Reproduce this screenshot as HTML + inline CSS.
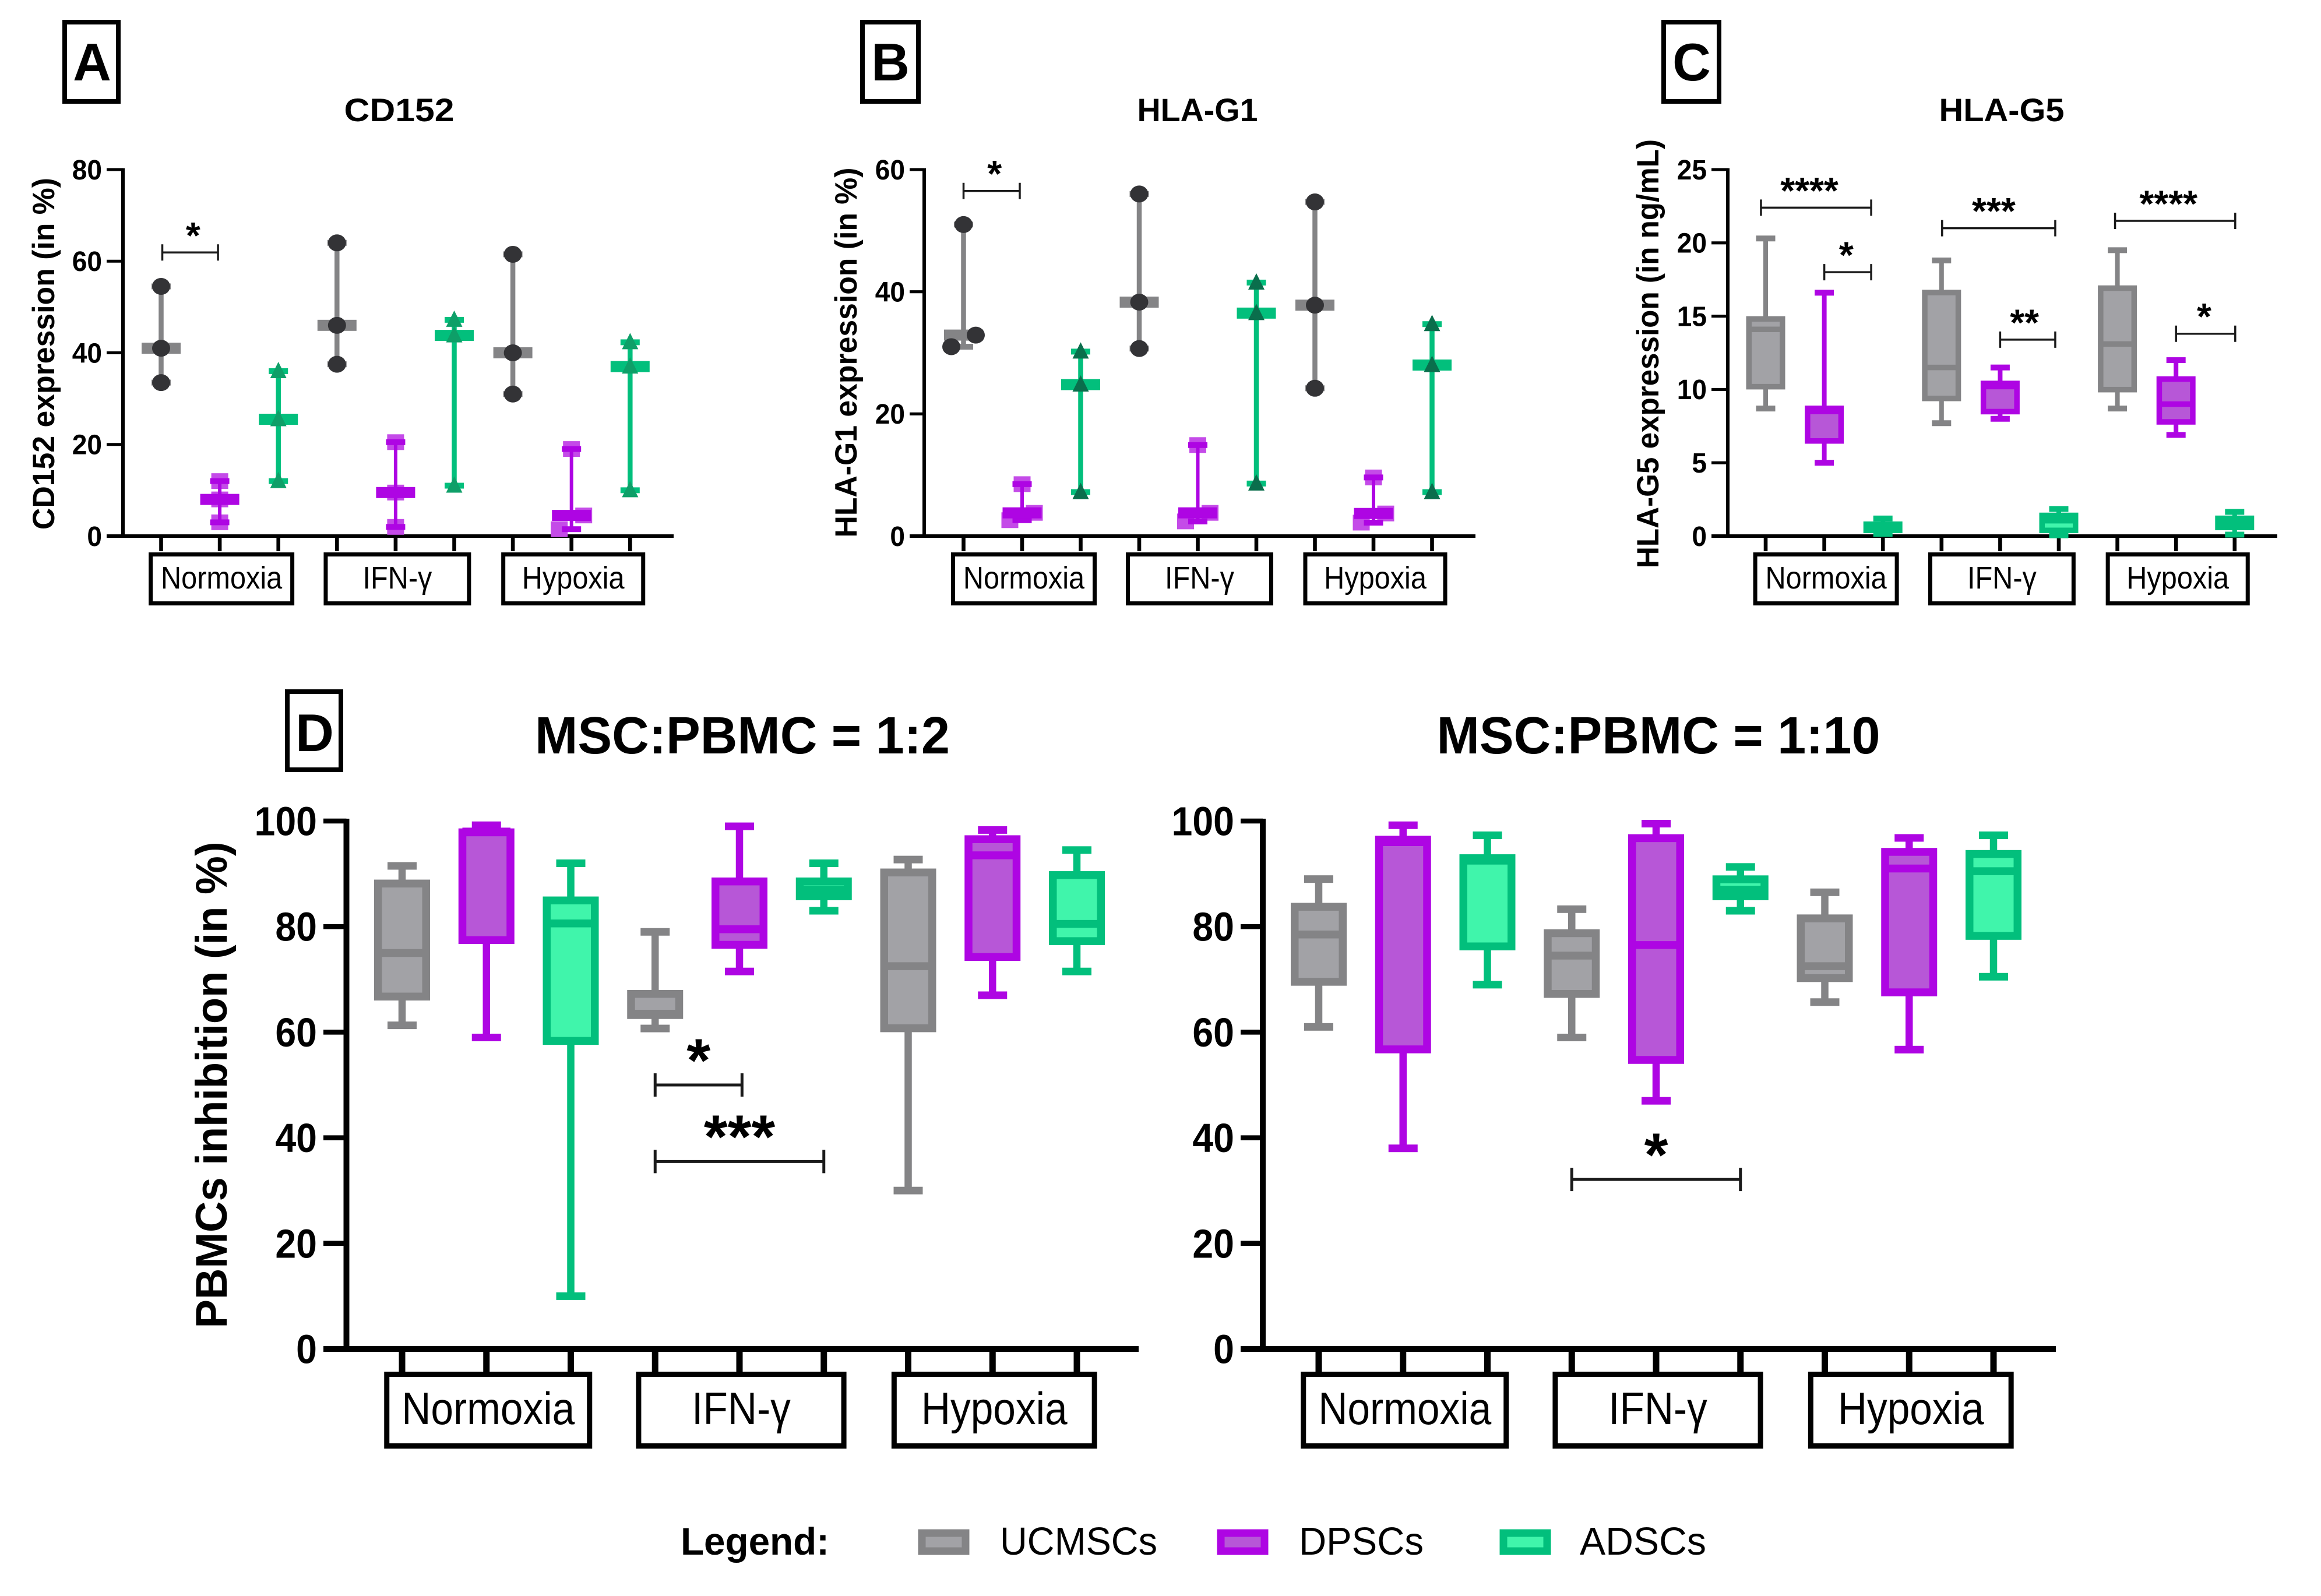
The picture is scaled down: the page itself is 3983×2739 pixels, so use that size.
<!DOCTYPE html>
<html lang="en">
<head>
<meta charset="utf-8">
<title>Immunomodulatory expression and PBMC inhibition by MSC type</title>
<style>
html,body{margin:0;padding:0;background:#fff;}
svg{display:block;}
text{font-family:"Liberation Sans",sans-serif;fill:#000;}
.b{font-weight:bold;}
</style>
</head>
<body>
<svg id="figure" xmlns="http://www.w3.org/2000/svg" width="3983" height="2739" viewBox="0 0 3983 2739">
  <rect x="0" y="0" width="3983" height="2739" fill="#fff"/>

  <g fill="none" stroke="#000" stroke-width="8">
    <rect x="111" y="38" width="92" height="136"/>
    <rect x="1480" y="38" width="96" height="136"/>
    <rect x="2855" y="38" width="95" height="136"/>
    <rect x="493" y="1187" width="92" height="134"/>
  </g>
  <text class="b" x="158" y="138" font-size="91" text-anchor="middle">A</text>
  <text class="b" x="1528" y="138" font-size="91" text-anchor="middle">B</text>
  <text class="b" x="2903" y="138" font-size="91" text-anchor="middle">C</text>
  <text class="b" x="540" y="1289" font-size="91" text-anchor="middle">D</text>

  <text class="b" x="685" y="208" font-size="56" text-anchor="middle" textLength="189" lengthAdjust="spacingAndGlyphs">CD152</text>
  <text class="b" x="2055" y="208" font-size="56" text-anchor="middle" textLength="207" lengthAdjust="spacingAndGlyphs">HLA-G1</text>
  <text class="b" x="3435" y="208" font-size="56" text-anchor="middle" textLength="215" lengthAdjust="spacingAndGlyphs">HLA-G5</text>
  <text class="b" x="1274" y="1293" font-size="90" text-anchor="middle" textLength="712" lengthAdjust="spacingAndGlyphs">MSC:PBMC = 1:2</text>
  <text class="b" x="2846" y="1293" font-size="90" text-anchor="middle" textLength="761" lengthAdjust="spacingAndGlyphs">MSC:PBMC = 1:10</text>

  <text class="b" transform="translate(93 607) rotate(-90)" font-size="53" text-anchor="middle" textLength="604" lengthAdjust="spacingAndGlyphs">CD152 expression (in %)</text>
  <text class="b" transform="translate(1470 605) rotate(-90)" font-size="53" text-anchor="middle" textLength="635" lengthAdjust="spacingAndGlyphs">HLA-G1 expression (in %)</text>
  <text class="b" transform="translate(2846 607) rotate(-90)" font-size="53" text-anchor="middle" textLength="736" lengthAdjust="spacingAndGlyphs">HLA-G5 expression (in ng/mL)</text>
  <text class="b" transform="translate(389 1862) rotate(-90)" font-size="76" text-anchor="middle" textLength="835" lengthAdjust="spacingAndGlyphs">PBMCs inhibition (in %)</text>

  <g id="charts"></g>

  <g>
    <text class="b" x="1168" y="2668" font-size="66" textLength="255" lengthAdjust="spacingAndGlyphs">Legend:</text>
    <rect x="1582" y="2631" width="75" height="31" fill="#A2A2A6" stroke="#848486" stroke-width="13"/>
    <text x="1716" y="2668" font-size="67" textLength="270" lengthAdjust="spacingAndGlyphs">UCMSCs</text>
    <rect x="2095" y="2631" width="75" height="31" fill="#B757D7" stroke="#AE05E3" stroke-width="13"/>
    <text x="2229" y="2668" font-size="67" textLength="214" lengthAdjust="spacingAndGlyphs">DPSCs</text>
    <rect x="2580" y="2631" width="75" height="31" fill="#40F5AB" stroke="#02BF7C" stroke-width="13"/>
    <text x="2711" y="2668" font-size="67" textLength="217" lengthAdjust="spacingAndGlyphs">ADSCs</text>
  </g>
</svg>

<script>
// ---------- Data ----------
const conditions = ['Normoxia', 'IFN-γ', 'Hypoxia'];
const cellTypes = ['ucmscs', 'dpscs', 'adscs'];

const cd152Ticks = [0, 20, 40, 60, 80];
const hlaG1Ticks = [0, 20, 40, 60];
const hlaG5Ticks = [0, 5, 10, 15, 20, 25];
const inhibitionTicks = [0, 20, 40, 60, 80, 100];

// three replicates per bar, order: Normoxia (UC, DP, AD), IFN-y (UC, DP, AD), Hypoxia (UC, DP, AD)
const cd152Values = [
  [33.5, 41, 54.5], [3, 8, 12], [12, 25.5, 36],
  [37.5, 46, 64], [2, 9.5, 20.5], [11, 43.8, 47.2],
  [31, 40, 61.5], [1.5, 4.5, 19], [10, 37, 42.3]
];
const hlaG1Values = [
  [31, 32.9, 51], [2.6, 3.8, 8.5], [7.2, 24.8, 30.2],
  [30.7, 38.3, 56], [2.4, 3.8, 14.9], [8.6, 36.5, 41.5],
  [24.2, 37.8, 54.7], [2.2, 3.7, 9.6], [7.2, 28, 34.7]
];

// box plots: min, q1, median, q3, max
const hlaG5Boxes = [
  [8.7, 10, 14.1, 15, 20.3], [5, 6.3, 8.5, 8.9, 16.6], [0.15, 0.2, 0.6, 1, 1.2],
  [7.7, 9.2, 11.5, 16.8, 18.8], [8, 8.3, 10.2, 10.6, 11.5], [0.05, 0.2, 1.05, 1.6, 1.85],
  [8.7, 9.8, 13.1, 17.1, 19.5], [6.9, 7.6, 9, 10.9, 12], [0.1, 0.4, 0.9, 1.4, 1.65]
];
const inhibition12Boxes = [
  [61.3, 66, 75, 88.9, 91.5], [59, 76.7, 98, 98.6, 99.2], [10, 57.6, 80.6, 85.7, 92],
  [60.7, 62.5, 63.5, 68, 79], [71.5, 75.8, 79.5, 89.3, 99], [83, 85, 87, 89.3, 92],
  [30, 60, 72.5, 91, 92.7], [67, 73.5, 93.5, 97.3, 98.3], [71.5, 76.5, 80.5, 90.5, 94.5]
];
const inhibition110Boxes = [
  [61, 68.8, 78.5, 84.5, 89], [38, 56, 96, 97.2, 99.2], [69, 75.5, 92.5, 93.7, 97.3],
  [59, 66.5, 74.5, 79.5, 83.3], [47, 54, 76.5, 97.5, 99.5], [83, 85, 87, 89.7, 91.3],
  [65.7, 69.5, 72.5, 82.3, 86.5], [56.7, 66.8, 91, 94.9, 96.8], [70.5, 77.5, 90.5, 94.5, 97.3]
];

// significance: from bar index, to bar index, axis value, stars
const cd152Brackets = [[0.02, 0.97, 61.9, '*']];
const hlaG1Brackets = [[0, 0.96, 56.5, '*']];
const hlaG5Brackets = [
  [-0.08, 1.8, 22.4, '****'], [1, 1.8, 18, '*'],
  [3.01, 4.94, 21, '***'], [4, 4.94, 13.4, '**'],
  [5.96, 8.01, 21.5, '****'], [7, 8.01, 13.8, '*']
];
const inhibition12Brackets = [[3, 4.03, 50, '*'], [3, 5, 35.5, '***']];
const inhibition110Brackets = [[3, 5, 32.1, '*']];

// ---------- Styling ----------
const lineColors = ['#848486', '#AE05E3', '#02BF7C'];
const fillColors = ['#A2A2A6', '#B757D7', '#40F5AB'];

const smallFrame = {
  yTop: 291, y0: 920, tickDown: 946, axisW: 6, tickFont: 48, tickScale: 0.96, tickGap: 8,
  labelFont: 53.5, labelScale: 0.91, labelBase: 1010, catTop: 951.5, catBottom: 1035.5, catW: 243, catStroke: 7,
  boxOuter: 67, boxStroke: 9.5, whisker: 8, capW: 33, capH: 10,
  bracketW: 3.5, bracketTick: 28, starFont: 64, starGap: 37, starShift: 5, starSpread: 0
};
const largeFrame = {
  yTop: 1409, y0: 2315, tickDown: 2355, axisW: 10, tickFont: 70, tickScale: 0.92, tickGap: 11,
  labelFont: 78, labelScale: 0.89, labelBase: 2444, catTop: 2358.5, catBottom: 2481.5, catW: 348, catStroke: 9,
  boxOuter: 96, boxStroke: 13.5, whisker: 12.5, capW: 50, capH: 13,
  bracketW: 5, bracketTick: 40, starFont: 105, starGap: 55, starShift: 0, starSpread: 0
};

const panels = [
  Object.assign({}, smallFrame, { name: 'cd152', kind: 'points', max: 80, ticks: cd152Ticks, values: cd152Values, brackets: cd152Brackets,
    axisX: 211, tickLeft: 183, xEnd: 1156, firstBar: 276.5, step: 100.6, triangle: '#0E9F68' }),
  Object.assign({}, smallFrame, { name: 'hla-g1', kind: 'points', max: 60, ticks: hlaG1Ticks, values: hlaG1Values, brackets: hlaG1Brackets,
    axisX: 1586, tickLeft: 1561, xEnd: 2532, firstBar: 1653.5, step: 100.5, triangle: '#0A6E4C' }),
  Object.assign({}, smallFrame, { name: 'hla-g5', kind: 'box', max: 25, ticks: hlaG5Ticks, values: hlaG5Boxes, brackets: hlaG5Brackets,
    axisX: 2965, tickLeft: 2937, xEnd: 3908, firstBar: 3030, step: 100.6, starShift: -2.5, starSpread: 3 }),
  Object.assign({}, largeFrame, { name: 'inhibition-1-2', kind: 'box', max: 100, ticks: inhibitionTicks, values: inhibition12Boxes, brackets: inhibition12Brackets,
    axisX: 594.5, tickLeft: 555, xEnd: 1954, firstBar: 690, step: 144.75 }),
  Object.assign({}, largeFrame, { name: 'inhibition-1-10', kind: 'box', max: 100, ticks: inhibitionTicks, values: inhibition110Boxes, brackets: inhibition110Brackets,
    axisX: 2167, tickLeft: 2129, xEnd: 3528, firstBar: 2263, step: 144.75 })
];

// ---------- Drawing ----------
const NS = 'http://www.w3.org/2000/svg';
function add(parent, tag, attrs, text) {
  const el = document.createElementNS(NS, tag);
  for (const k in attrs) el.setAttribute(k, attrs[k]);
  if (text !== undefined) el.textContent = text;
  parent.appendChild(el);
  return el;
}

function drawAxes(g, p, yScale, xScale) {
  const yAxis = add(g, 'line', { x1: p.axisX, x2: p.axisX, y1: yScale(p.max) - p.axisW * 0.4, y2: p.y0 + p.axisW / 2, stroke: '#000', 'stroke-width': p.axisW });
  
  
  const xAxis = add(g, 'line', { x1: p.tickLeft, x2: p.xEnd, y1: p.y0, y2: p.y0, stroke: '#000', 'stroke-width': p.axisW });
  
  

  p.ticks.forEach(function (t) {
    const y = yScale(t);
    const tick = add(g, 'line', { x1: p.tickLeft, x2: p.axisX, y1: y, y2: y, stroke: '#000', 'stroke-width': p.axisW * 0.85 });
    
    
    const label = add(g, 'text', { transform: 'translate(' + (p.tickLeft - p.tickGap) + ' ' + (y + p.tickFont * 0.35) + ') scale(' + p.tickScale + ' 1)', 'font-size': p.tickFont, 'font-weight': 'bold', 'text-anchor': 'end' }, String(t));
    
    
  });

  p.values.forEach(function (_, i) {
    const tick = add(g, 'line', { x1: xScale(i), x2: xScale(i), y1: p.y0, y2: p.tickDown, stroke: '#000', 'stroke-width': p.axisW * 1.1 });
    
    
  });

  conditions.forEach(function (c, j) {
    const cx = xScale(j * 3 + 1) + 3;
    const w = p.catW * (j === 1 ? 1.012 : (j === 2 ? 0.988 : 1));
    const box = add(g, 'rect', { x: cx - w / 2, y: p.catTop, width: w, height: p.catBottom - p.catTop, fill: '#fff', stroke: '#000', 'stroke-width': p.catStroke });
    
    
    const label = add(g, 'text', { transform: 'translate(' + cx + ' ' + p.labelBase + ') scale(' + p.labelScale + ' 1)', 'font-size': p.labelFont, 'text-anchor': 'middle' }, c);
    
    
  });
}

function drawSymbol(g, type, x, y, color) {
  if (type === 0) {
    const c = add(g, 'ellipse', { cx: x, cy: y, rx: 15.5, ry: 14.5, fill: '#333336' });
    
    
  } else if (type === 1) {
    const s = add(g, 'rect', { x: x - 14.5, y: y - 13.5, width: 29, height: 27, fill: '#C44BE8' });
    
    
  } else {
    const t = add(g, 'polygon', { points: (x - 14) + ',' + (y + 12) + ' ' + (x + 14) + ',' + (y + 12) + ' ' + x + ',' + (y - 16), fill: color });
    
    
  }
}

function drawPoints(g, p, d, i, yScale, xScale) {
  const type = i % 3;
  const x = xScale(i);
  const col = lineColors[type];
  const lo = Math.min.apply(null, d);
  const hi = Math.max.apply(null, d);
  const sorted = d.slice().sort(function (a, b) { return a - b; });
  const median = sorted[1];
  const offsets = [0, 0, 0];
  for (let k = 0; k < 2; k++) {
    if (Math.abs(yScale(sorted[k]) - yScale(sorted[k + 1])) < 25) {
      offsets[k] = -21;
      offsets[k + 1] = 21;
    }
  }
  if (type === 1) {
    sorted.forEach(function (v, k) { drawSymbol(g, type, x + offsets[k], yScale(v), p.triangle); });
  }
  const range = add(g, 'line', { x1: x, x2: x, y1: yScale(lo), y2: yScale(hi), stroke: col, 'stroke-width': type === 1 ? 6 : 8.5 });
  
  
  [lo, hi].forEach(function (v) {
    const cap = add(g, 'rect', { x: x - p.capW / 2, y: yScale(v) - p.capH / 2, width: p.capW, height: p.capH, fill: col });
    
    
  });
  const bar = add(g, 'rect', { x: x - 33.5, y: yScale(median) - 9.5, width: 67, height: 19, fill: col });
  
  
  if (type !== 1) {
    sorted.forEach(function (v, k) { drawSymbol(g, type, x + offsets[k], yScale(v), p.triangle); });
  }
}

function drawBox(g, p, d, i, yScale, xScale) {
  const type = i % 3;
  const x = xScale(i);
  const col = lineColors[type];
  const whisker = add(g, 'line', { x1: x, x2: x, y1: yScale(d[0]), y2: yScale(d[4]), stroke: col, 'stroke-width': p.whisker });
  
  
  [d[0], d[4]].forEach(function (v) {
    const cap = add(g, 'rect', { x: x - p.capW / 2, y: yScale(v) - p.capH / 2, width: p.capW, height: p.capH, fill: col });
    
    
  });
  const inner = p.boxOuter - p.boxStroke;
  const box = add(g, 'rect', { x: x - inner / 2, y: yScale(d[3]) + p.boxStroke / 2, width: inner, height: Math.max(yScale(d[1]) - yScale(d[3]) - p.boxStroke, 1), fill: fillColors[type], stroke: col, 'stroke-width': p.boxStroke });
  
  
  const med = add(g, 'line', { x1: x - inner / 2, x2: x + inner / 2, y1: yScale(d[2]), y2: yScale(d[2]), stroke: col, 'stroke-width': p.boxStroke });
  
  
}

function drawBracket(g, p, b, yScale, xScale) {
  const x1 = xScale(b[0]);
  const x2 = xScale(b[1]);
  const y = yScale(b[2]);
  const line = add(g, 'path', { d: 'M' + x1 + ' ' + (y - p.bracketTick / 2) + 'V' + (y + p.bracketTick / 2) + 'M' + x1 + ' ' + y + 'H' + x2 + 'M' + x2 + ' ' + (y - p.bracketTick / 2) + 'V' + (y + p.bracketTick / 2), fill: 'none', stroke: '#1a1a1a', 'stroke-width': p.bracketW });
  
  
  const shift = p.starShift - p.starSpread * (b[3].length - 1);
  const star = add(g, 'text', { x: (x1 + x2) / 2 + shift, y: y - p.starGap + p.starFont * 0.46, 'font-size': p.starFont, 'font-weight': 'bold', 'text-anchor': 'middle' }, b[3]);
  
  
}

const root = document.getElementById('charts');
panels.forEach(function (p) {
  const yScale = function (v) { return p.y0 - (v / p.max) * (p.y0 - p.yTop); };
  const xScale = function (i) { return p.firstBar + i * p.step; };
  const g = add(root, 'g', {});
  
  
  drawAxes(g, p, yScale, xScale);
  p.values.forEach(function (d, i) {
    if (p.kind === 'points') drawPoints(g, p, d, i, yScale, xScale);
    else drawBox(g, p, d, i, yScale, xScale);
  });
  p.brackets.forEach(function (b) { drawBracket(g, p, b, yScale, xScale); });
});
</script>
</body>
</html>
